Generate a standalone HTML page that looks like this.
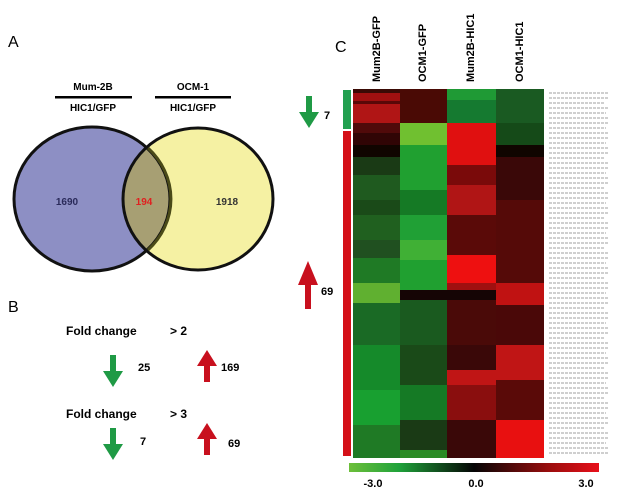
<!DOCTYPE html><html><head><style>body{margin:0;background:#fff}svg{display:block}text{font-family:"Liberation Sans",Arial,sans-serif;font-weight:bold}</style></head><body>
<svg width="620" height="490" viewBox="0 0 620 490">
<defs>
<linearGradient id="cb" x1="0" x2="1"><stop offset="0" stop-color="#6dbf3a"/><stop offset="0.2" stop-color="#1fa23a"/><stop offset="0.5" stop-color="#050505"/><stop offset="0.8" stop-color="#9a0d0d"/><stop offset="1" stop-color="#e8101a"/></linearGradient>
<g id="dn"><rect x="-3" y="0" width="6" height="22" fill="#1f9a45"/><path d="M-10,16 L10,16 L0,32 Z" fill="#1f9a45"/></g>
<g id="up"><rect x="-3" y="10" width="6" height="22" fill="#c8101e"/><path d="M-10,16 L10,16 L0,0 Z" fill="#c8101e"/></g>
</defs>
<text x="8" y="47" font-size="16" font-weight="normal" style="font-weight:normal">A</text>
<text x="8" y="312" font-size="16" style="font-weight:normal">B</text>
<text x="335" y="52" font-size="16" style="font-weight:normal">C</text>
<text x="93" y="90" font-size="10" text-anchor="middle">Mum-2B</text>
<rect x="55" y="96" width="77" height="2.5" fill="#000"/>
<text x="93" y="111" font-size="10" text-anchor="middle">HIC1/GFP</text>
<text x="193" y="90" font-size="10" text-anchor="middle">OCM-1</text>
<rect x="155" y="96" width="76" height="2.5" fill="#000"/>
<text x="193" y="111" font-size="10" text-anchor="middle">HIC1/GFP</text>
<ellipse cx="92" cy="199" rx="78" ry="72" fill="#8d8fc4"/>
<ellipse cx="198" cy="199" rx="75" ry="71" fill="#f5f1a3"/>
<clipPath id="cl"><ellipse cx="92" cy="199" rx="78" ry="72"/></clipPath>
<ellipse cx="198" cy="199" rx="75" ry="71" fill="#a79f73" clip-path="url(#cl)"/>
<ellipse cx="92" cy="199" rx="78" ry="72" fill="none" stroke="#111" stroke-width="3"/>
<ellipse cx="198" cy="199" rx="75" ry="71" fill="none" stroke="#111" stroke-width="3"/>
<path d="M148,148 A78,72 0 0 1 148,250" fill="none" stroke="#4a4a18" stroke-width="3"/>
<text x="67" y="205" font-size="10" text-anchor="middle" fill="#2a2a5a">1690</text>
<text x="144" y="205" font-size="10" text-anchor="middle" fill="#e02020">194</text>
<text x="227" y="205" font-size="10" text-anchor="middle" fill="#333">1918</text>
<text x="66" y="335" font-size="12">Fold change</text><text x="170" y="335" font-size="12">&gt; 2</text>
<use href="#dn" x="113" y="355"/><text x="138" y="371" font-size="11">25</text>
<use href="#up" x="207" y="350"/><text x="221" y="371" font-size="11">169</text>
<text x="66" y="418" font-size="12">Fold change</text><text x="170" y="418" font-size="12">&gt; 3</text>
<use href="#dn" x="113" y="428"/><text x="140" y="445" font-size="11">7</text>
<use href="#up" x="207" y="423"/><text x="228" y="447" font-size="11">69</text>
<use href="#dn" x="309" y="96"/><text x="324" y="119" font-size="11">7</text>
<g transform="translate(308,261) scale(1,1.5)"><use href="#up"/></g><text x="321" y="295" font-size="11">69</text>
<rect x="343" y="90" width="8" height="39" fill="#22a050"/>
<rect x="343" y="131" width="8" height="325" fill="#d41018"/>
<g font-size="11">
<text transform="translate(380,82) rotate(-90)">Mum2B-GFP</text>
<text transform="translate(426,82) rotate(-90)">OCM1-GFP</text>
<text transform="translate(474,82) rotate(-90)">Mum2B-HIC1</text>
<text transform="translate(523,82) rotate(-90)">OCM1-HIC1</text>
</g>
<g>
<!-- col1 -->
<rect x="353" y="89" width="47" height="369" fill="#1a6a25"/>
<rect x="353" y="89" width="47" height="4" fill="#3a0a05"/>
<rect x="353" y="93" width="47" height="8" fill="#a01010"/>
<rect x="353" y="101" width="47" height="3" fill="#5a0808"/>
<rect x="353" y="104" width="47" height="19" fill="#b01515"/>
<rect x="353" y="123" width="47" height="10" fill="#500a0a"/>
<rect x="353" y="133" width="47" height="12" fill="#300505"/>
<rect x="353" y="145" width="47" height="12" fill="#100500"/>
<rect x="353" y="157" width="47" height="18" fill="#1a3a15"/>
<rect x="353" y="175" width="47" height="25" fill="#1f5a1f"/>
<rect x="353" y="200" width="47" height="15" fill="#1a4a18"/>
<rect x="353" y="215" width="47" height="25" fill="#20601f"/>
<rect x="353" y="240" width="47" height="18" fill="#205020"/>
<rect x="353" y="258" width="47" height="25" fill="#1f7a25"/>
<rect x="353" y="283" width="47" height="20" fill="#60b030"/>
<rect x="353" y="345" width="47" height="45" fill="#158a2a"/>
<rect x="353" y="390" width="47" height="35" fill="#18a030"/>
<rect x="353" y="425" width="47" height="33" fill="#1f7a25"/>
<!-- col2 -->
<rect x="400" y="89" width="47" height="34" fill="#4a0a05"/>
<rect x="400" y="123" width="47" height="22" fill="#70c030"/>
<rect x="400" y="145" width="47" height="45" fill="#20a030"/>
<rect x="400" y="190" width="47" height="25" fill="#157a25"/>
<rect x="400" y="215" width="47" height="25" fill="#20a035"/>
<rect x="400" y="240" width="47" height="20" fill="#40b035"/>
<rect x="400" y="260" width="47" height="30" fill="#20a030"/>
<rect x="400" y="290" width="47" height="10" fill="#150505"/>
<rect x="400" y="300" width="47" height="45" fill="#1a5a1f"/>
<rect x="400" y="345" width="47" height="40" fill="#1a4a18"/>
<rect x="400" y="385" width="47" height="35" fill="#157a25"/>
<rect x="400" y="420" width="47" height="30" fill="#1a3a15"/>
<rect x="400" y="450" width="47" height="8" fill="#2a8a25"/>
<!-- col3 -->
<rect x="447" y="89" width="49" height="11" fill="#1f9a35"/>
<rect x="447" y="100" width="49" height="23" fill="#157a30"/>
<rect x="447" y="123" width="49" height="42" fill="#e01010"/>
<rect x="447" y="165" width="49" height="20" fill="#7a0a0a"/>
<rect x="447" y="185" width="49" height="30" fill="#b01515"/>
<rect x="447" y="215" width="49" height="40" fill="#5a0a08"/>
<rect x="447" y="255" width="49" height="28" fill="#ee1010"/>
<rect x="447" y="283" width="49" height="7" fill="#a01010"/>
<rect x="447" y="290" width="49" height="10" fill="#150505"/>
<rect x="447" y="300" width="49" height="45" fill="#4a0a08"/>
<rect x="447" y="345" width="49" height="25" fill="#3a0808"/>
<rect x="447" y="370" width="49" height="15" fill="#c01515"/>
<rect x="447" y="385" width="49" height="35" fill="#8a0e0e"/>
<rect x="447" y="420" width="49" height="38" fill="#3a0808"/>
<!-- col4 -->
<rect x="496" y="89" width="48" height="34" fill="#1a5a22"/>
<rect x="496" y="123" width="48" height="22" fill="#154a18"/>
<rect x="496" y="145" width="48" height="12" fill="#100500"/>
<rect x="496" y="157" width="48" height="43" fill="#3a0808"/>
<rect x="496" y="200" width="48" height="83" fill="#550a08"/>
<rect x="496" y="283" width="48" height="22" fill="#c01212"/>
<rect x="496" y="305" width="48" height="40" fill="#4a0808"/>
<rect x="496" y="345" width="48" height="35" fill="#c01515"/>
<rect x="496" y="380" width="48" height="40" fill="#5a0a08"/>
<rect x="496" y="420" width="48" height="38" fill="#e81010"/>
</g>
<g fill="#c8c8c8">
<rect x="549" y="90" width="60" height="366" fill="url(#lines)" opacity="0"/>
</g>
<g stroke="#cfcfcf" stroke-width="2" stroke-dasharray="3 1">
<path d="M549 93H608M549 98H608M549 103H605M549 108H608M549 113H606M549 118H608M549 123H608M549 128H606M549 133H608M549 138H608M549 143H606M549 148H608M549 153H608M549 158H605M549 163H608M549 168H608M549 173H606M549 178H608M549 183H608M549 188H605M549 193H608M549 198H608M549 203H606M549 208H608M549 213H608M549 218H605M549 223H608M549 228H608M549 233H606M549 238H608M549 243H608M549 248H605M549 253H608M549 258H608M549 263H606M549 268H608M549 273H608M549 278H605M549 283H608M549 288H608M549 293H606M549 298H608M549 303H608M549 308H605M549 313H608M549 318H608M549 323H606M549 328H608M549 333H608M549 338H605M549 343H608M549 348H608M549 353H606M549 358H608M549 363H608M549 368H605M549 373H608M549 378H608M549 383H606M549 388H608M549 393H608M549 398H605M549 403H608M549 408H608M549 413H606M549 418H608M549 423H608M549 428H605M549 433H608M549 438H608M549 443H606M549 448H608M549 453H608"/>
</g>
<rect x="349" y="463" width="250" height="9" fill="url(#cb)"/>
<text x="373" y="487" font-size="11" text-anchor="middle">-3.0</text>
<text x="476" y="487" font-size="11" text-anchor="middle">0.0</text>
<text x="586" y="487" font-size="11" text-anchor="middle">3.0</text>
</svg></body></html>
